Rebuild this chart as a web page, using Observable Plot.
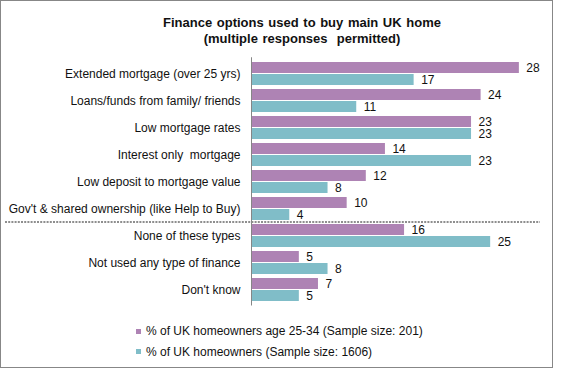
<!DOCTYPE html>
<html>
<head>
<meta charset="utf-8">
<script src="https://cdn.jsdelivr.net/npm/d3@7"></script>
<script src="https://cdn.jsdelivr.net/npm/@observablehq/plot@0.6"></script>
<style>
  html, body { margin: 0; padding: 0; background: #fff; }
  #chart {
    position: relative; width: 553px; height: 368px; box-sizing: border-box;
    border: 1px solid #878787; background: #fff;
    font-family: "Liberation Sans", Arial, sans-serif; color: #000;
  }
  #title {
    width: 551px; height: 44px; box-sizing: border-box; padding-top: 14px; padding-left: 51px;
    text-align: center; font-weight: bold; font-size: 13px; line-height: 15.5px; color: #111;
    white-space: pre; word-spacing: 1px;
  }
  #plot svg { display: block; }
  #plot g[aria-label*="y-axis"] text, #plot g[aria-label*="y-axis"] { font-size: 12px !important; }
  #legend { padding-top: 6px; padding-left: 134.5px; font-size: 12px; color: #111; }
  .item { display: flex; align-items: center; height: 20.5px; }
  .sw { width: 5px; height: 5px; margin-right: 5.5px; }
</style>
</head>
<body>
<div id="chart">
  <div id="title"></div>
  <div id="plot"></div>
  <div id="legend"></div>
</div>
<script>
const titleLines = ["Finance options used to buy main UK home", "(multiple responses  permitted)"];
const categories = [
  "Extended mortgage (over 25 yrs)",
  "Loans/funds from family/ friends",
  "Low mortgage rates",
  "Interest only  mortgage",
  "Low deposit to mortgage value",
  "Gov't & shared ownership (like Help to Buy)",
  "None of these types",
  "Not used any type of finance",
  "Don't know"
];
const young = [28, 24, 23, 14, 12, 10, 16, 5, 7];
const allOwners = [17, 11, 23, 23, 8, 4, 25, 8, 5];
const seriesNames = [
  "% of UK homeowners age 25-34 (Sample size: 201)",
  "% of UK homeowners (Sample size: 1606)"
];
const seriesColors = ["#ae83b4", "#80bdc8"];
const separatorBefore = "None of these types";

document.getElementById("title").textContent = titleLines.join("\n");

const youngRows = categories.map((c, i) => ({cat: c, value: young[i]}));
const allRows = categories.map((c, i) => ({cat: c, value: allOwners[i]}));

const chart = Plot.plot({
  width: 551,
  height: 270,
  marginTop: 12.25,
  marginBottom: 9.5,
  marginLeft: 250,
  marginRight: 14,
  style: {fontFamily: "Liberation Sans, Arial, sans-serif", fontSize: "12px", color: "#111", background: "transparent"},
  x: {domain: [0, 30], axis: null},
  y: {domain: categories, paddingInner: 0.163, paddingOuter: 0.1, tickSize: 0, tickPadding: 11, label: null},
  marks: [
    Plot.barX(youngRows, {x: "value", y: "cat", fill: seriesColors[0], insetBottom: 12}),
    Plot.barX(allRows, {x: "value", y: "cat", fill: seriesColors[1], insetTop: 12}),
    Plot.text(youngRows, {x: "value", y: "cat", text: d => String(d.value), dx: 7, dy: -6.3, textAnchor: "start", fontSize: 12, fill: "#111"}),
    Plot.text(allRows, {x: "value", y: "cat", text: d => String(d.value), dx: 7, dy: 6.3, textAnchor: "start", fontSize: 12, fill: "#111"}),
    Plot.ruleX([0], {stroke: "#868686", strokeWidth: 1})
  ]
});
document.getElementById("plot").appendChild(chart);

// dotted separator between groups, placed from the y scale
const ys = chart.scale("y");
const yTop = ys.apply(separatorBefore) - (ys.step - ys.bandwidth) / 2;
d3.select(chart).append("line")
  .attr("x1", 4).attr("x2", 539)
  .attr("y1", yTop).attr("y2", yTop)
  .attr("stroke", "#8e8e8e").attr("stroke-width", 2)
  .attr("stroke-dasharray", "2 1.2");

const legend = d3.select("#legend");
seriesNames.forEach((name, i) => {
  const item = legend.append("div").attr("class", "item");
  item.append("div").attr("class", "sw").style("background", seriesColors[i]);
  item.append("span").text(name);
});
</script>
</body>
</html>
